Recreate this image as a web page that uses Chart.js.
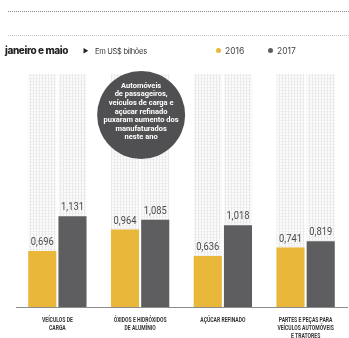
<!DOCTYPE html>
<html>
<head>
<meta charset="utf-8">
<script src="https://cdn.jsdelivr.net/npm/chart.js@4/dist/chart.umd.min.js"></script>
<style>
  html, body { margin: 0; padding: 0; background: #fff; }
  #wrap { position: relative; width: 349px; height: 338px; overflow: hidden; }
  #chart { position: absolute; left: 0; top: 0; }
  .rule1 { position: absolute; left: 8px; right: 0; top: 11px; border-top: 1px dotted #8a8a8a; }
  .rule2 { position: absolute; left: 8px; right: 0; top: 35px; border-top: 1px dotted #c4c4c4; }
  .hdr { position: absolute; top: 45px; font-family: "Inter", "Noto Sans", sans-serif; color: #222; white-space: nowrap; }
  .title { left: 5px; top: 44px; font-size: 10px; font-weight: 800; letter-spacing: -0.4px; }
  .arrow { left: 83px; top: 47px; font-size: 6px; }
  .unit { left: 95px; top: 47px; font-size: 7.5px; letter-spacing: -0.3px; color: #333; }
  .leg { top: 46px; font-size: 8.5px; color: #444; }
  .dot { display: inline-block; width: 5px; height: 5px; border-radius: 50%; margin-right: 4px; vertical-align: 1px; }
</style>
</head>
<body>
<div id="wrap">
  <canvas id="chart" width="349" height="338"></canvas>
  <div class="rule1"></div>
  <div class="rule2"></div>
  <div class="hdr title">janeiro e maio</div>
  <div class="hdr arrow">&#9654;</div>
  <div class="hdr unit">Em US$ bilhões</div>
  <div class="hdr leg" style="left:216px"><span class="dot" style="background:#e9b83b"></span>2016</div>
  <div class="hdr leg" style="left:268px"><span class="dot" style="background:#5e5e60"></span>2017</div>
</div>
<script>
// dados: exportações de manufaturados, jan-mai
const categories = [
  ["VEÍCULOS DE", "CARGA"],
  ["ÓXIDOS E HIDRÓXIDOS", "DE ALUMÍNIO"],
  ["AÇÚCAR REFINADO"],
  ["PARTES E PEÇAS PARA", "VEÍCULOS AUTOMÓVEIS", "E TRATORES"]
];
const values2016 = [0.696, 0.964, 0.636, 0.741];
const values2017 = [1.131, 1.085, 1.018, 0.819];
const seriesLabels = ["2016", "2017"];
const note = ["Automóveis", "de passageiros,", "veículos de carga e", "açúcar refinado",
  "puxaram aumento dos", "manufaturados", "neste ano"];

const YELLOW = "#e9b83b";
const GREY = "#5e5e60";

// fundo quadriculado atrás das barras
function gridPattern(ctx) {
  const c = document.createElement("canvas");
  c.width = 3; c.height = 3;
  const g = c.getContext("2d");
  g.fillStyle = "#fbfbfb";
  g.fillRect(0, 0, 3, 3);
  g.fillStyle = "#eaeaea";
  g.fillRect(0, 0, 1, 3);
  g.fillStyle = "#f1f1f1";
  g.fillRect(1, 0, 2, 1);
  return ctx.createPattern(c, "repeat");
}

const fmt = v => v.toFixed(3).replace(".", ",");

// texto estreito (não há fonte condensada instalada)
function narrowText(ctx, text, x, y, sx) {
  ctx.save();
  ctx.translate(x, y);
  ctx.scale(sx, 1);
  ctx.fillText(text, 0, 0);
  ctx.restore();
}

const backdrop = {
  id: "backdrop",
  beforeDatasetsDraw(chart) {
    const ctx = chart.ctx;
    const area = chart.chartArea;
    ctx.save();
    ctx.fillStyle = gridPattern(ctx);
    chart.data.datasets.forEach((ds, i) => {
      chart.getDatasetMeta(i).data.forEach(bar => {
        const w = bar.width;
        ctx.fillRect(bar.x - w / 2, area.top, w, bar.base - area.top);
      });
    });
    ctx.restore();
  },
  afterDatasetsDraw(chart) {
    const ctx = chart.ctx;
    const area = chart.chartArea;
    const xs = chart.scales.x, ys = chart.scales.y;
    ctx.save();
    // valores acima das barras
    ctx.font = "11px Roboto, sans-serif";
    ctx.fillStyle = "#4a4a4a";
    ctx.textAlign = "center";
    ctx.textBaseline = "bottom";
    chart.data.datasets.forEach((ds, i) => {
      chart.getDatasetMeta(i).data.forEach((bar, j) => {
        narrowText(ctx, fmt(ds.data[j]), bar.x, bar.y - 3, 0.85);
      });
    });
    // rótulos das categorias
    ctx.font = "bold 7px Roboto, sans-serif";
    ctx.fillStyle = "#333";
    ctx.textBaseline = "middle";
    categories.forEach((lines, j) => {
      const x = xs.getPixelForValue(j);
      lines.forEach((line, k) => {
        narrowText(ctx, line, x, area.bottom + 13.5 + k * 7.9, 0.72);
      });
    });
    // círculo com nota
    const cx = xs.getPixelForValue(1) + 1;
    const cy = ys.getPixelForValue(2.39);
    ctx.beginPath();
    ctx.arc(cx, cy, 44, 0, Math.PI * 2);
    ctx.fillStyle = "#505052";
    ctx.fill();
    ctx.fillStyle = "#fff";
    ctx.font = "bold 7.5px Roboto, sans-serif";
    ctx.textBaseline = "middle";
    note.forEach((line, k) => {
      ctx.fillText(line, cx, cy - 29 + k * 8.6);
    });
    ctx.restore();
  }
};

new Chart(document.getElementById("chart"), {
  type: "bar",
  data: {
    labels: categories,
    datasets: [
      { label: seriesLabels[0], data: values2016, backgroundColor: YELLOW },
      { label: seriesLabels[1], data: values2017, backgroundColor: GREY }
    ]
  },
  options: {
    responsive: false,
    animation: false,
    layout: { padding: { top: 74, left: 16, right: 2, bottom: 31 } },
    categoryPercentage: 0.73,
    barPercentage: 0.93,
    plugins: {
      legend: { display: false },
      tooltip: { enabled: false }
    },
    scales: {
      y: {
        display: false,
        min: 0,
        max: 2.9
      },
      x: {
        offset: true,
        grid: { display: false, drawTicks: false },
        border: { display: true, color: "#8c8c8c", width: 1 },
        ticks: { display: false }
      }
    }
  },
  plugins: [backdrop]
});
</script>
</body>
</html>
